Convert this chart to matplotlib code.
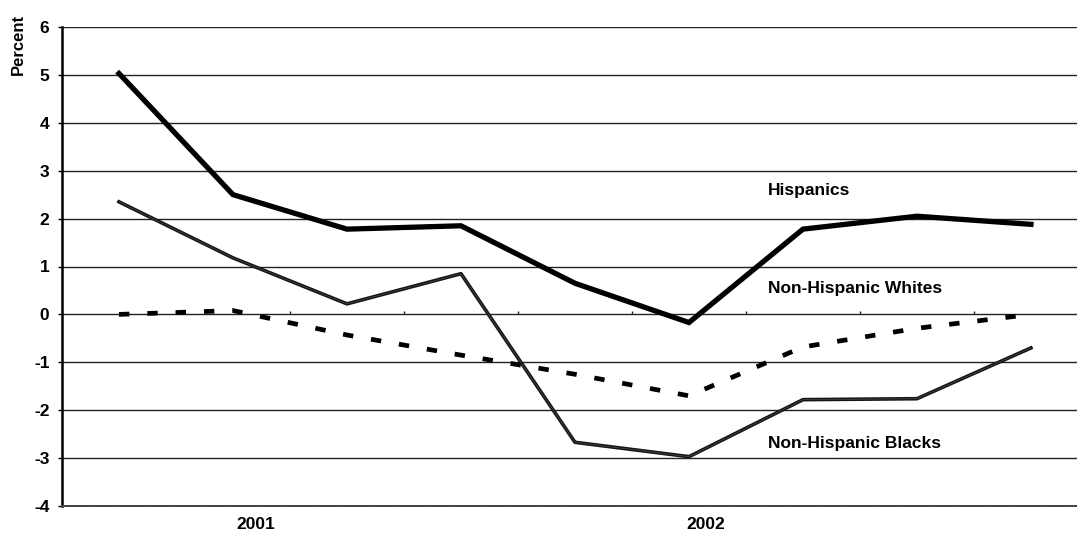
import matplotlib.pyplot as plt
import numpy as np

plt.rcParams['font.family'] = ['Liberation Sans', 'DejaVu Sans']

# quarterly data, 9 points
quarters = ['2000Q4', '2001Q1', '2001Q2', '2001Q3', '2001Q4',
            '2002Q1', '2002Q2', '2002Q3', '2002Q4']
hispanics = [5.03, 2.50, 1.78, 1.85, 0.65, -0.17, 1.78, 2.05, 1.88]
blacks = [2.35, 1.18, 0.22, 0.85, -2.67, -2.97, -1.78, -1.76, -0.70]
whites = [0.00, 0.08, -0.43, -0.85, -1.25, -1.70, -0.68, -0.29, 0.00]

year_labels = ['2001', '2002']
year_pos = [1.2, 5.15]
yticks = list(range(-4, 7))

x = np.arange(len(quarters))

fig = plt.figure(figsize=(10.77, 5.33), dpi=100)
ax = fig.add_axes([62 / 1077, 27 / 533, 1015 / 1077, 479 / 533])

# gridlines
for y in yticks[1:]:
    ax.axhline(y, color='#222222', lw=1.0, zorder=1)

ax.plot(x, hispanics, color='black', lw=3.8, solid_joinstyle='miter', zorder=3)
ax.plot(x, blacks, color='#151515', lw=2.6, zorder=3)
ax.plot(x, blacks, color='#555555', lw=0.4, zorder=4)
ax.plot(x, whites, color='black', lw=3.4, linestyle=(0, (2.2, 3.8)),
        dash_capstyle='butt', zorder=3)

# small category ticks on the zero line
mids = x[:-1] + 0.5
ax.vlines(mids, 0, 0.08, color='#222222', lw=1.0, zorder=2)

lab = dict(fontsize=12.5, fontweight='bold', va='center')
ax.text(5.69, 2.58, 'Hispanics', **lab)
ax.text(5.69, 0.55, 'Non-Hispanic Whites', **lab)
ax.text(5.69, -2.70, 'Non-Hispanic Blacks', **lab)

ax.set_xlim(-0.5, 8.404)
ax.set_ylim(-4, 6)
ax.set_yticks(yticks)
ax.set_yticklabels([str(t) for t in yticks], fontsize=12.5, fontweight='bold')
ax.set_xticks(year_pos)
ax.set_xticklabels(year_labels, fontsize=12.5, fontweight='bold')
ax.tick_params(axis='x', length=0, pad=8)
ax.tick_params(axis='y', length=3, width=1, pad=6)

ax.spines['left'].set_linewidth(1.8)
ax.spines['bottom'].set_linestyle((0, (1, 0.6)))
ax.spines['bottom'].set_color('#444444')
ax.spines['bottom'].set_linewidth(1.4)
ax.spines['top'].set_visible(False)
ax.spines['right'].set_visible(False)

fig.text(18 / 1077, 1 - 44 / 533, 'Percent', rotation=90, fontsize=12,
         fontweight='bold', ha='center', va='center')

fig.savefig('out.png', dpi=100)
